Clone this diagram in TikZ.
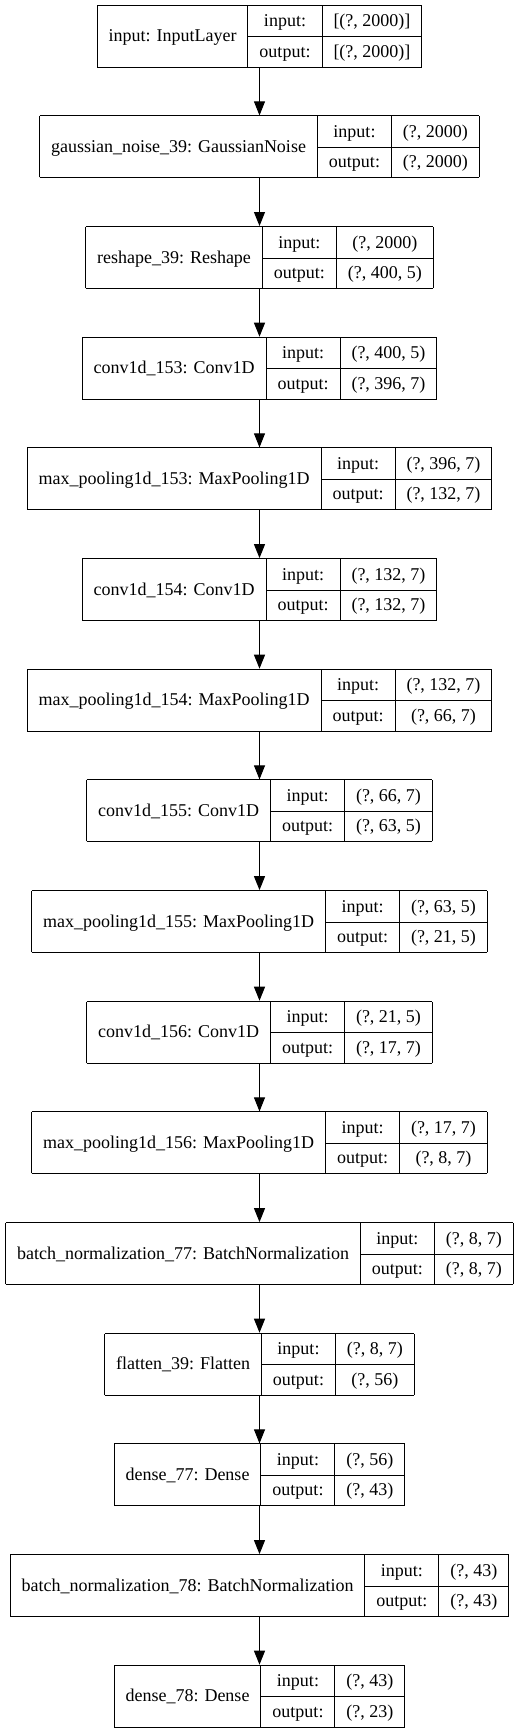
\documentclass[tikz,border=0pt]{standalone}
\usepackage{fontspec}
\setmainfont{Liberation Serif}
\usetikzlibrary{arrows.meta}
\tikzset{>={Triangle[length=14pt,width=11pt]}}
\tikzset{layer/.style={inner sep=0pt,outer sep=0pt,font=\fontsize{18}{22}\selectfont}}
\setlength\arrayrulewidth{1pt}
\setlength\tabcolsep{11.5pt}
\renewcommand\arraystretch{0}
\newcommand\rowstrut{\rule[-9.5pt]{0pt}{30.5pt}}
% \layer{name}{y}{label}{input}{output}
\newcommand\layer[5]{%
  \node[layer] (#1) at (259.5pt,#2) {\begin{tabular}{|c|c|c|}\hline
      \raisebox{-15.25pt}[0pt][0pt]{#3} & \rowstrut input: & #4\\ \cline{2-3}
      & \rowstrut output: & #5\\ \hline
    \end{tabular}};%
}
\begin{document}
\begin{tikzpicture}
  \useasboundingbox (0,0) rectangle (519pt,-1733pt);
  \layer{L1}{-36.2pt}{input: InputLayer}{[(?, 2000)]}{[(?, 2000)]}
  \layer{L2}{-146.9pt}{gaussian\_noise\_39: GaussianNoise}{(?, 2000)}{(?, 2000)}
  \layer{L3}{-257.5pt}{reshape\_39: Reshape}{(?, 2000)}{(?, 400, 5)}
  \layer{L4}{-368.2pt}{conv1d\_153: Conv1D}{(?, 400, 5)}{(?, 396, 7)}
  \layer{L5}{-478.9pt}{max\_pooling1d\_153: MaxPooling1D}{(?, 396, 7)}{(?, 132, 7)}
  \layer{L6}{-589.6pt}{conv1d\_154: Conv1D}{(?, 132, 7)}{(?, 132, 7)}
  \layer{L7}{-700.2pt}{max\_pooling1d\_154: MaxPooling1D}{(?, 132, 7)}{(?, 66, 7)}
  \layer{L8}{-810.9pt}{conv1d\_155: Conv1D}{(?, 66, 7)}{(?, 63, 5)}
  \layer{L9}{-921.6pt}{max\_pooling1d\_155: MaxPooling1D}{(?, 63, 5)}{(?, 21, 5)}
  \layer{L10}{-1032.2pt}{conv1d\_156: Conv1D}{(?, 21, 5)}{(?, 17, 7)}
  \layer{L11}{-1142.9pt}{max\_pooling1d\_156: MaxPooling1D}{(?, 17, 7)}{(?, 8, 7)}
  \layer{L12}{-1253.6pt}{batch\_normalization\_77: BatchNormalization}{(?, 8, 7)}{(?, 8, 7)}
  \layer{L13}{-1364.2pt}{flatten\_39: Flatten}{(?, 8, 7)}{(?, 56)}
  \layer{L14}{-1474.9pt}{dense\_77: Dense}{(?, 56)}{(?, 43)}
  \layer{L15}{-1585.6pt}{batch\_normalization\_78: BatchNormalization}{(?, 43)}{(?, 43)}
  \layer{L16}{-1696.2pt}{dense\_78: Dense}{(?, 43)}{(?, 23)}
  \foreach \a/\b in {L1/L2,L2/L3,L3/L4,L4/L5,L5/L6,L6/L7,L7/L8,L8/L9,L9/L10,L10/L11,L11/L12,L12/L13,L13/L14,L14/L15,L15/L16}
    \draw[->,line width=1pt] (\a) -- (\b);
\end{tikzpicture}
\end{document}
